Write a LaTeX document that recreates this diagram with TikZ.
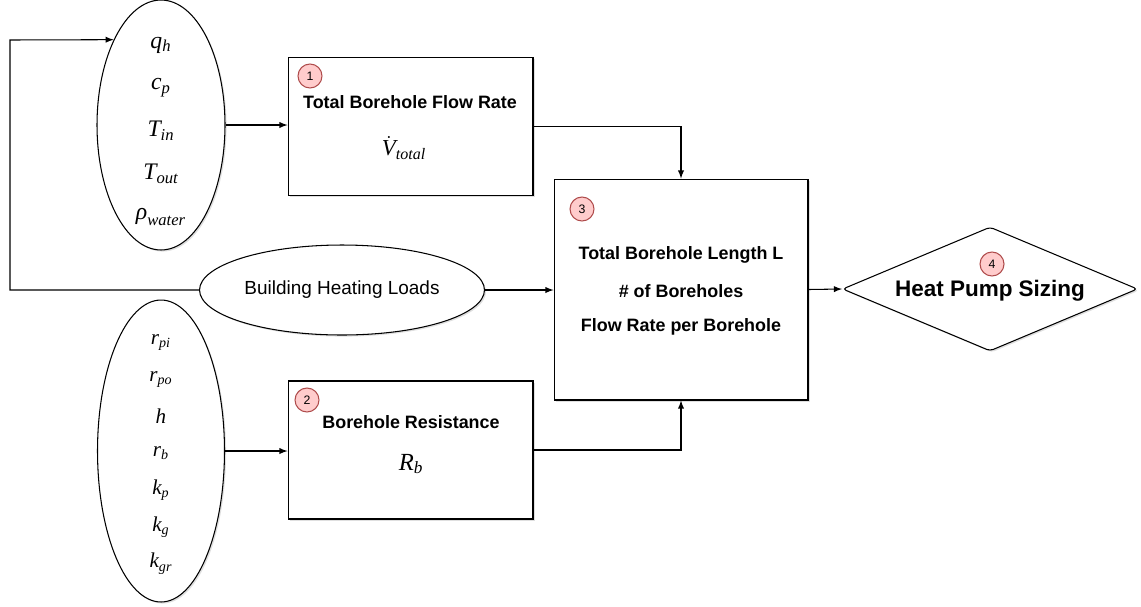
\documentclass[tikz,border=0pt]{standalone}
\usepackage{fontspec}
\setmainfont{Liberation Sans}
\setmathrm{Liberation Serif}
\newfontfamily\serifit{Liberation Serif}
\usetikzlibrary{shapes.geometric,shadows}

\newcommand{\mv}[2]{$\mathit{#1}_{\mathit{#2}}$}

\begin{document}
\begin{tikzpicture}[x=0.02cm, y=-0.02cm,
    line width=0.6pt,
    shd/.style={drop shadow={shadow xshift=0.9pt, shadow yshift=-0.9pt, opacity=0.25, fill=black!50}},
    box/.style={draw, fill=white, shd, minimum width=4.9cm, minimum height=2.76cm},
    oval/.style={draw, fill=white, shd, ellipse, inner sep=0pt},
    badge/.style={circle, draw=red!55!black!70, fill=red!20, minimum size=0.48cm, inner sep=0pt, font=\fontsize{7}{8}\selectfont},
    ttl/.style={font=\fontsize{10.2}{12}\selectfont\bfseries},
    arr/.style={-{latex}}]

    \useasboundingbox (0,0) rectangle (1141,606);

    % eingaben
    \node[oval, minimum width=2.56cm, minimum height=5cm] (qin) at (161,125) {};
    \node[oval, minimum width=2.54cm, minimum height=6.04cm] (rin) at (161,451) {};
    \node[oval, minimum width=5.7cm, minimum height=1.8cm, font=\fontsize{10.8}{13}\selectfont] (bld) at (342,290) {Building Heating Loads};

    \foreach \t [count=\i] in {\mv{q}{h}, \mv{c}{p}, \mv{T}{in}, \mv{T}{out}, $\mbox{\serifit\itshape ρ}_{\mathit{water}}$}
      \node[font=\fontsize{13.5}{15}\selectfont] (q\i) at (161, 2+43*\i) {\t};
    \foreach \t [count=\i] in {\mv{r}{pi}, \mv{r}{po}, $\mathit{h}$, \mv{r}{b}, \mv{k}{p}, \mv{k}{g}, \mv{k}{gr}}
      \node[font=\fontsize{12}{14}\selectfont] (r\i) at (161, 306+36.8*\i) {\t};

    % schritte
    \node[box] (b1) at (410.5,126.5) {};
    \node[box] (b2) at (410.5,450) {};
    \node[box, minimum width=5.08cm, minimum height=4.42cm] (b3) at (681,289.5) {};
    \node[diamond, draw, fill=white, shd, rounded corners=2pt, minimum width=5.9cm, minimum height=2.48cm, inner sep=0pt] (hp) at (990,289) {};

    \node[ttl] (t1) at (410,102) {Total Borehole Flow Rate};
    \node[font=\fontsize{13}{14}\selectfont, inner sep=1pt] (v1) at (404,148) {$\dot{\mathit{V}}_{\mathit{total}}$};
    \node[ttl] (t2) at (411,422) {Borehole Resistance};
    \node[font=\fontsize{14}{15}\selectfont] (v2) at (411,464) {\mv{R}{b}};
    \node[ttl] (t3a) at (681,255) {Total Borehole Length L};
    \node[ttl] (t3b) at (681,291) {\# of Boreholes};
    \node[ttl] (t3c) at (681,327) {Flow Rate per Borehole};
    \node[font=\fontsize{12.8}{15}\selectfont\bfseries] (t4) at (990,291) {Heat Pump Sizing};

    \node[badge] (c1) at (310,76) {1};
    \node[badge] (c2) at (307,400) {2};
    \node[badge] (c3) at (582,209) {3};
    \node[badge] (c4) at (992,264) {4};

    % pfeile
    \coordinate (lp) at (10,40);
    \draw[arr] (bld.west) -| (lp) -- (qin.119);
    \draw[arr] (qin.east) -- (qin.east -| b1.west);
    \draw[arr] (rin.east) -- (rin.east -| b2.west);
    \draw[arr] (b1.east) -| (b3.north);
    \draw[arr] (b2.east) -| (b3.south);
    \draw[arr] (bld.east) -- (bld.east -| b3.west);
    \draw[arr] (b3.east) -- (hp.west);
\end{tikzpicture}
\end{document}
